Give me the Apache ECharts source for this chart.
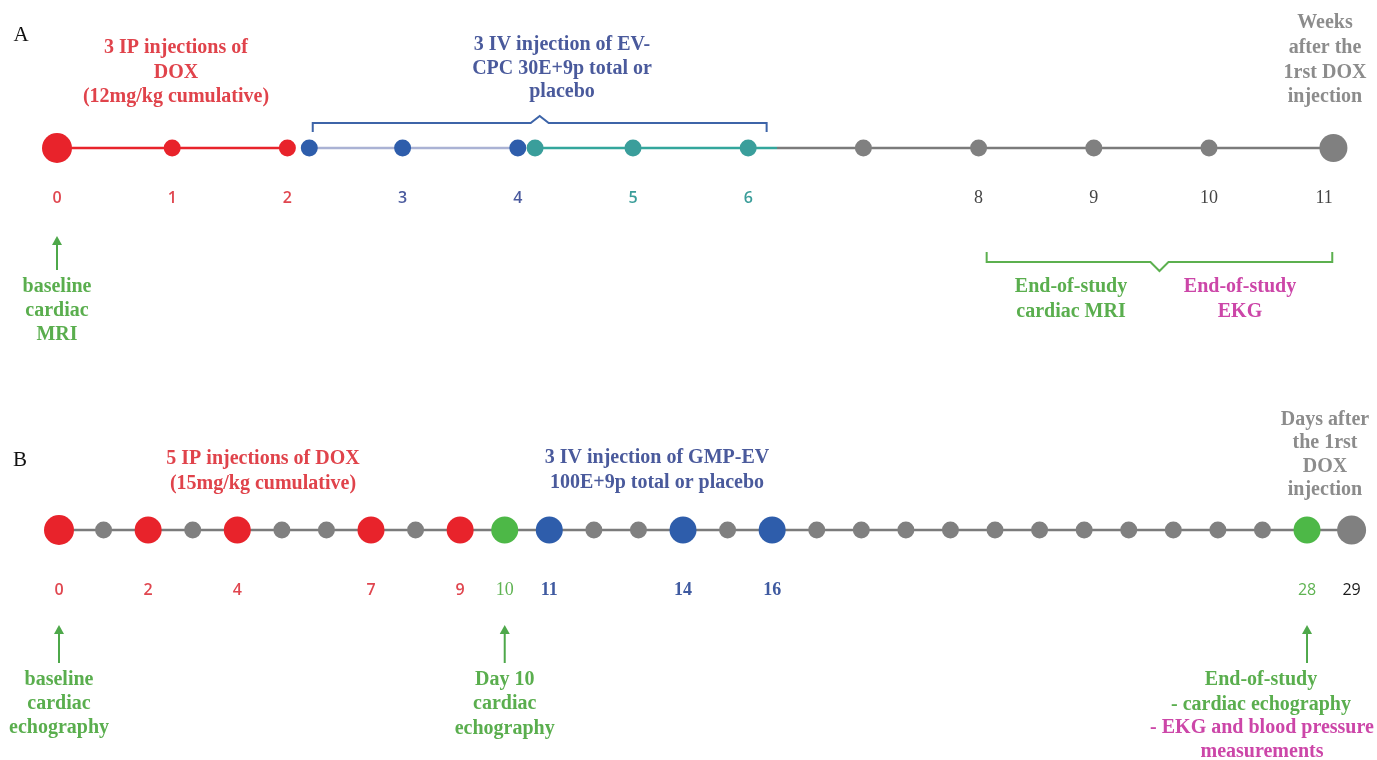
<!DOCTYPE html>
<html>
<head>
<meta charset="utf-8">
<script src="https://cdn.jsdelivr.net/npm/echarts@6/dist/echarts.min.js"></script>
<style>
  html, body { margin: 0; padding: 0; background: #ffffff; }
  #c { width: 1377px; height: 760px; }
</style>
</head>
<body>
<div id="c"></div>
<script>
// ---------- DATA ----------
// Panel A (weeks)
const topTickValues = [0, 1, 2, 3, 4, 5, 6, 8, 9, 10, 11];
const topTickGroups = ['dox', 'dox', 'dox', 'ev', 'ev', 'evp', 'evp', 'none', 'none', 'none', 'none'];
const topDotWeeks  = [0, 1, 2, 2.19, 3, 4, 4.15, 5, 6, 7, 8, 9, 10, 11.08];
const topDotGroups = ['doxStart', 'dox', 'dox', 'ev', 'ev', 'ev', 'evp', 'evp', 'evp', 'none', 'none', 'none', 'none', 'end'];
const topSegFrom   = [0, 2.19, 4.15, 6.25];
const topSegTo     = [2, 4, 6.25, 11.08];
const topSegGroups = ['dox', 'ev', 'evp', 'none'];
const topBraceEV   = [2.22, 6.16];   // IV injection span (weeks)
const topBraceEnd  = [8.07, 11.07];  // end-of-study span (weeks)

// Panel B (days)
const bottomDays = [0, 1, 2, 3, 4, 5, 6, 7, 8, 9, 10, 11, 12, 13, 14, 15, 16, 17, 18, 19, 20, 21, 22, 23, 24, 25, 26, 27, 28, 29];
const bottomDotGroups = ['doxStart', 'none', 'dox', 'none', 'dox', 'none', 'none', 'dox', 'none', 'dox',
  'echo', 'ev', 'none', 'none', 'ev', 'none', 'ev', 'none', 'none', 'none',
  'none', 'none', 'none', 'none', 'none', 'none', 'none', 'none', 'echo', 'end'];
const bottomTickValues = [0, 2, 4, 7, 9, 10, 11, 14, 16, 28, 29];
const bottomTickGroups = ['dox', 'dox', 'dox', 'dox', 'dox', 'echo', 'evSerif', 'evSerif', 'evSerif', 'echoSans', 'end'];
const bottomSegFrom = [0];
const bottomSegTo = [29];

// Annotation anchors
const topArrowWeeks = [0];
const bottomArrowDays = [0, 10, 28];

// ---------- STYLES ----------
const C = {
  red: '#e8232b', redText: '#e0434b',
  blue: '#2e5dab', blueText: '#4a5a9c', lav: '#aab2d4',
  teal: '#3a9e9b', tealLine: '#33a69c',
  gray: '#808080', grayLine: '#7b7b7b', grayText: '#8c8c8c',
  green: '#4db847', greenText: '#5aae4e', magenta: '#cc46a8'
};
const topDotStyle = {
  doxStart: [C.red, 30], dox: [C.red, 17], ev: [C.blue, 17], evp: [C.teal, 17],
  none: [C.gray, 17], end: [C.gray, 28]
};
const bottomDotStyle = {
  doxStart: [C.red, 30], dox: [C.red, 27], ev: [C.blue, 27], echo: [C.green, 27],
  none: [C.gray, 17], end: [C.gray, 29]
};
const segColor = { dox: C.red, ev: C.lav, evp: C.tealLine, none: C.grayLine };
const SERIF = '"Liberation Serif", "DejaVu Serif", serif';
const SANS = '"Open Sans", "Noto Sans", sans-serif';
const rich = {
  dox:      { color: '#e0464f', fontFamily: SANS, fontWeight: 600, fontSize: 16, lineHeight: 20 },
  ev:       { color: '#4a5a9e', fontFamily: SANS, fontWeight: 600, fontSize: 16, lineHeight: 20 },
  evSerif:  { color: '#3f5aa0', fontFamily: SERIF, fontWeight: 'bold', fontSize: 18, lineHeight: 20 },
  evp:      { color: '#3a9d99', fontFamily: SANS, fontWeight: 600, fontSize: 16, lineHeight: 20 },
  none:     { color: '#444444', fontFamily: SERIF, fontSize: 18, lineHeight: 20 },
  echo:     { color: '#5fb352', fontFamily: SERIF, fontSize: 18, lineHeight: 20 },
  echoSans: { color: '#5fb352', fontFamily: SANS, fontSize: 16, lineHeight: 20 },
  end:      { color: '#1a1a1a', fontFamily: SANS, fontSize: 16, lineHeight: 20 }
};

// ---------- SERIES ----------
const series = [];
topSegFrom.forEach((f, i) => {
  series.push({
    type: 'line', xAxisIndex: 0, yAxisIndex: 0, silent: true, clip: false, z: 1,
    symbol: 'none', data: [[f, 0], [topSegTo[i], 0]],
    lineStyle: { color: segColor[topSegGroups[i]], width: 2.5 }
  });
});
series.push({
  type: 'scatter', xAxisIndex: 0, yAxisIndex: 0, silent: true, clip: false, z: 3,
  data: topDotWeeks.map((w, i) => {
    const s = topDotStyle[topDotGroups[i]];
    return { value: [w, 0], symbolSize: s[1], itemStyle: { color: s[0], opacity: 1 } };
  })
});
bottomSegFrom.forEach((f, i) => {
  series.push({
    type: 'line', xAxisIndex: 1, yAxisIndex: 1, silent: true, clip: false, z: 1,
    symbol: 'none', data: [[f, 0], [bottomSegTo[i], 0]],
    lineStyle: { color: C.grayLine, width: 2.5 }
  });
});
series.push({
  type: 'scatter', xAxisIndex: 1, yAxisIndex: 1, silent: true, clip: false, z: 3,
  data: bottomDays.map((d, i) => {
    const s = bottomDotStyle[bottomDotGroups[i]];
    return { value: [d, 0], symbolSize: s[1], itemStyle: { color: s[0], opacity: 1 } };
  })
});

function xAxisFor(gridIndex, max, ticks, groups, margin) {
  return {
    type: 'value', gridIndex: gridIndex, min: 0, max: max,
    axisLine: { show: false }, axisTick: { show: false }, splitLine: { show: false },
    axisLabel: {
      show: true, customValues: ticks, margin: margin, hideOverlap: false,
      showMinLabel: true, showMaxLabel: true,
      formatter: v => { const k = ticks.indexOf(v); return '{' + groups[k] + '|' + v + '}'; },
      rich: rich
    }
  };
}

const chart = echarts.init(document.getElementById('c'));
chart.setOption({
  animation: false,
  backgroundColor: '#ffffff',
  grid: [
    { left: 57, right: 52.8, top: 128, height: 40 },
    { left: 59, right: 25.4, top: 510, height: 40 }
  ],
  xAxis: [
    xAxisFor(0, 11, topTickValues, topTickGroups, 20),
    xAxisFor(1, 29, bottomTickValues, bottomTickGroups, 30)
  ],
  yAxis: [
    { type: 'value', gridIndex: 0, min: -1, max: 1, show: false },
    { type: 'value', gridIndex: 1, min: -1, max: 1, show: false }
  ],
  series: series
});

// ---------- ANNOTATIONS ----------
const px0 = v => chart.convertToPixel({ xAxisIndex: 0 }, v);
const px1 = v => chart.convertToPixel({ xAxisIndex: 1 }, v);

function txt(x, y, lines, color, size, lh, extra) {
  return {
    type: 'text', x: x, y: y, silent: true, z: 10,
    style: Object.assign({
      text: lines.join('\n'), fill: color,
      fontFamily: SERIF, fontSize: size, fontWeight: 'normal', lineHeight: lh,
      align: 'center', verticalAlign: 'middle',
      textAlign: 'center', textVerticalAlign: 'middle'
    }, extra || {})
  };
}
function arrow(x, yTip, yBase, color) {
  return [
    { type: 'line', silent: true, z: 10, shape: { x1: x, y1: yBase, x2: x, y2: yTip + 6 },
      style: { stroke: color, lineWidth: 2 } },
    { type: 'polygon', silent: true, z: 10,
      shape: { points: [[x - 5, yTip + 9], [x + 5, yTip + 9], [x, yTip]] },
      style: { fill: color } }
  ];
}
function brace(xa, xb, y, yEnd, yPeak, color) {
  const xm = (xa + xb) / 2;
  return {
    type: 'polyline', silent: true, z: 10,
    shape: { points: [[xa, yEnd], [xa, y], [xm - 9, y], [xm, yPeak], [xm + 9, y], [xb, y], [xb, yEnd]] },
    style: { stroke: color, lineWidth: 2, fill: null }
  };
}

const FS = 20, W = 'bold';
const g = [];
// Panel letters
g.push(txt(21, 35, ['A'], '#111', 21, 24));
g.push(txt(20, 460, ['B'], '#111', 21, 24));

// Panel A texts
g.push(txt(176, 72.5, ['3 IP injections of', 'DOX', '(12mg/kg cumulative)'], C.redText, FS, 24.5, { fontWeight: W }));
g.push(txt(562, 68.5, ['3 IV injection of EV-', 'CPC 30E+9p total or', 'placebo'], C.blueText, FS, 23.5, { fontWeight: W }));
g.push(txt(1325, 60, ['Weeks', 'after the', '1rst DOX', 'injection'], C.grayText, FS, 24.7, { fontWeight: W }));
g.push(brace(px0(topBraceEV[0]), px0(topBraceEV[1]), 123, 132, 116, '#3d64a8'));
g.push(brace(px0(topBraceEnd[0]), px0(topBraceEnd[1]), 262, 252, 271, '#5cb04f'));
g.push(txt(1071, 299.5, ['End-of-study', 'cardiac MRI'], C.greenText, FS, 24.5, { fontWeight: W }));
g.push(txt(1240, 299.5, ['End-of-study', 'EKG'], C.magenta, FS, 24.5, { fontWeight: W }));
topArrowWeeks.forEach(w => arrow(px0(w), 236, 270, '#4ea84a').forEach(e => g.push(e)));
g.push(txt(px0(topArrowWeeks[0]), 311, ['baseline', 'cardiac', 'MRI'], C.greenText, FS, 24, { fontWeight: W }));

// Panel B texts
g.push(txt(263, 471, ['5 IP injections of DOX', '(15mg/kg cumulative)'], C.redText, FS, 25, { fontWeight: W }));
g.push(txt(657, 470.5, ['3 IV injection of GMP-EV', '100E+9p total or placebo'], C.blueText, FS, 25, { fontWeight: W }));
g.push(txt(1325, 455, ['Days after', 'the 1rst', 'DOX', 'injection'], C.grayText, FS, 23.5, { fontWeight: W }));
bottomArrowDays.forEach(d => arrow(px1(d), 625, 663, '#4ea84a').forEach(e => g.push(e)));
g.push(txt(px1(bottomArrowDays[0]), 704, ['baseline', 'cardiac', 'echography'], C.greenText, FS, 24, { fontWeight: W }));
g.push(txt(px1(bottomArrowDays[1]), 704, ['Day 10', 'cardiac', 'echography'], C.greenText, FS, 24.5, { fontWeight: W }));
g.push(txt(1261, 692.5, ['End-of-study', '- cardiac echography'], C.greenText, FS, 24.5, { fontWeight: W }));
g.push(txt(1262, 740, ['- EKG and blood pressure', 'measurements'], C.magenta, FS, 24, { fontWeight: W }));

chart.setOption({ graphic: { elements: g } });
</script>
</body>
</html>
